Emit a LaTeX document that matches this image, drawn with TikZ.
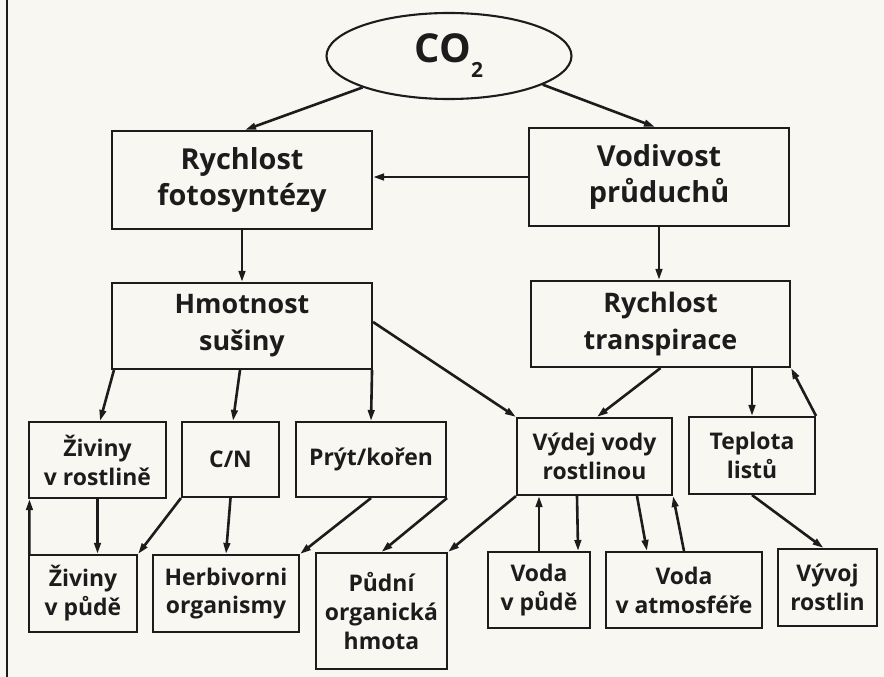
\documentclass[tikz,border=0pt]{standalone}
\usepackage{fontspec}
\setmainfont{Open Sans}
\usetikzlibrary{arrows.meta,shapes.geometric,calc}
\definecolor{bg}{HTML}{F8F7F2}
\definecolor{ink}{HTML}{1C1C1C}
\begin{document}
\begin{tikzpicture}[x=1bp,y=-1bp,
  box/.style={draw=ink,line width=2.1bp,inner sep=0pt,align=center,text=ink},
  wh/.style 2 args={minimum width=#1bp,minimum height=#2bp},
  fbig/.style={font=\fontsize{29}{37}\selectfont\bfseries},
  fmid/.style={font=\fontsize{27}{37}\selectfont\bfseries},
  fsmall/.style={font=\fontsize{23}{29}\selectfont\bfseries},
  arr/.style={draw=ink,line width=2.6bp,-{Triangle[length=11bp,width=6.5bp]}}]
\fill[bg] (0,0) rectangle (884,677);
\useasboundingbox (0,0) rectangle (884,677);
\draw[ink,line width=2.2bp] (7,0) -- (7,677);

% nodes
\node[box,ellipse,wh={245}{86},font=\fontsize{40}{44}\selectfont\bfseries] (co2) at (449,56)
  {CO\raisebox{-15bp}{\fontsize{21}{21}\selectfont 2}};
\node[box,fbig,wh={260}{98}] (rf) at (242,180) {Rychlost\\fotosyntézy};
\node[box,fbig,wh={260}{98}] (vp) at (659,177) {Vodivost\\průduchů};
\node[box,fmid,wh={260}{86}] (hs) at (242,326) {Hmotnost\\sušiny};
\node[box,fmid,wh={259}{86}] (rt) at (660.5,324) {Rychlost\\transpirace};
\node[box,fsmall,wh={137}{76}] (zr) at (97.5,460) {Živiny\\v rostlině};
\node[box,fsmall,wh={97}{75}] (cn) at (230.5,459.5) {C/N};
\node[box,fsmall,wh={150}{75}] (pk) at (371,459.5) {Prýt/kořen};
\node[box,fsmall,wh={108}{77}] (zp) at (83,593.5) {Živiny\\v půdě};
\node[box,fsmall,wh={146}{77}] (ho) at (226,593.5) {Herbivorni\\organismy};
\node[box,fsmall,wh={131}{116}] (po) at (381.5,611) {Půdní\\organická\\hmota};
\node[box,fsmall,wh={155}{77}] (vv) at (594.5,456.5) {Výdej vody\\rostlinou};
\node[box,fsmall,wh={126}{77}] (tl) at (752,455.5) {Teplota\\listů};
\node[box,fsmall,wh={102}{76}] (vpu) at (539,590) {Voda\\v půdě};
\node[box,fsmall,wh={156}{76}] (va) at (684,590) {Voda\\v atmosféře};
\node[box,fsmall,wh={99}{77}] (vr) at (827.5,587.5) {Vývoj\\rostlin};

% connectors
\draw[arr] (co2.200) -- ([xshift=3bp]rf.north);
\draw[arr] (co2.-17) -- ([xshift=-4bp]vp.north);
\draw[arr] (vp.west) -- (vp.west -| rf.east);
\draw[arr] (rf.south) -- (hs.north);
\draw[arr] (vp.south) -- (vp.south |- rt.north);
\draw[arr] ([xshift=3bp]hs.south west) -- ([xshift=2.5bp]zr.north);
\draw[arr] ([xshift=-2bp]hs.south) -- ([xshift=2.5bp]cn.north);
\draw[arr] ([xshift=-1bp]hs.south east) -- (pk.north);
\draw[arr] ([yshift=4bp]hs.east) -- (vv.north west);
\draw[arr] (rt.south) -- ([xshift=2.5bp]vv.north);
\draw[arr] (tl.north |- rt.south) -- (tl.north);
\draw[arr] (tl.north east) -- (rt.south east);
\draw[arr] (zr.south) -- (zr.south |- zp.north);
\draw[arr] ([xshift=1.5bp]zp.north west) -- ([xshift=1.5bp]zr.south west);
\draw[arr] (cn.south west) -- (zp.north east);
\draw[arr] (cn.south) -- (ho.north);
\draw[arr] (pk.south) -- (ho.north east);
\draw[arr] (pk.south east) -- (po.north);
\draw[arr] (vv.south west) -- (po.north east);
\draw[arr] (vpu.north) -- (vpu.north |- vv.south);
\draw[arr] ([xshift=-17.5bp]vv.south) -- ([xshift=-13bp]vpu.north east);
\draw[arr] ([xshift=42.5bp]vv.south) -- ([xshift=42bp]va.north west);
\draw[arr] (va.north) -- (vv.south east);
\draw[arr] (tl.south) -- ([xshift=-4bp]vr.north);
\end{tikzpicture}
\end{document}
